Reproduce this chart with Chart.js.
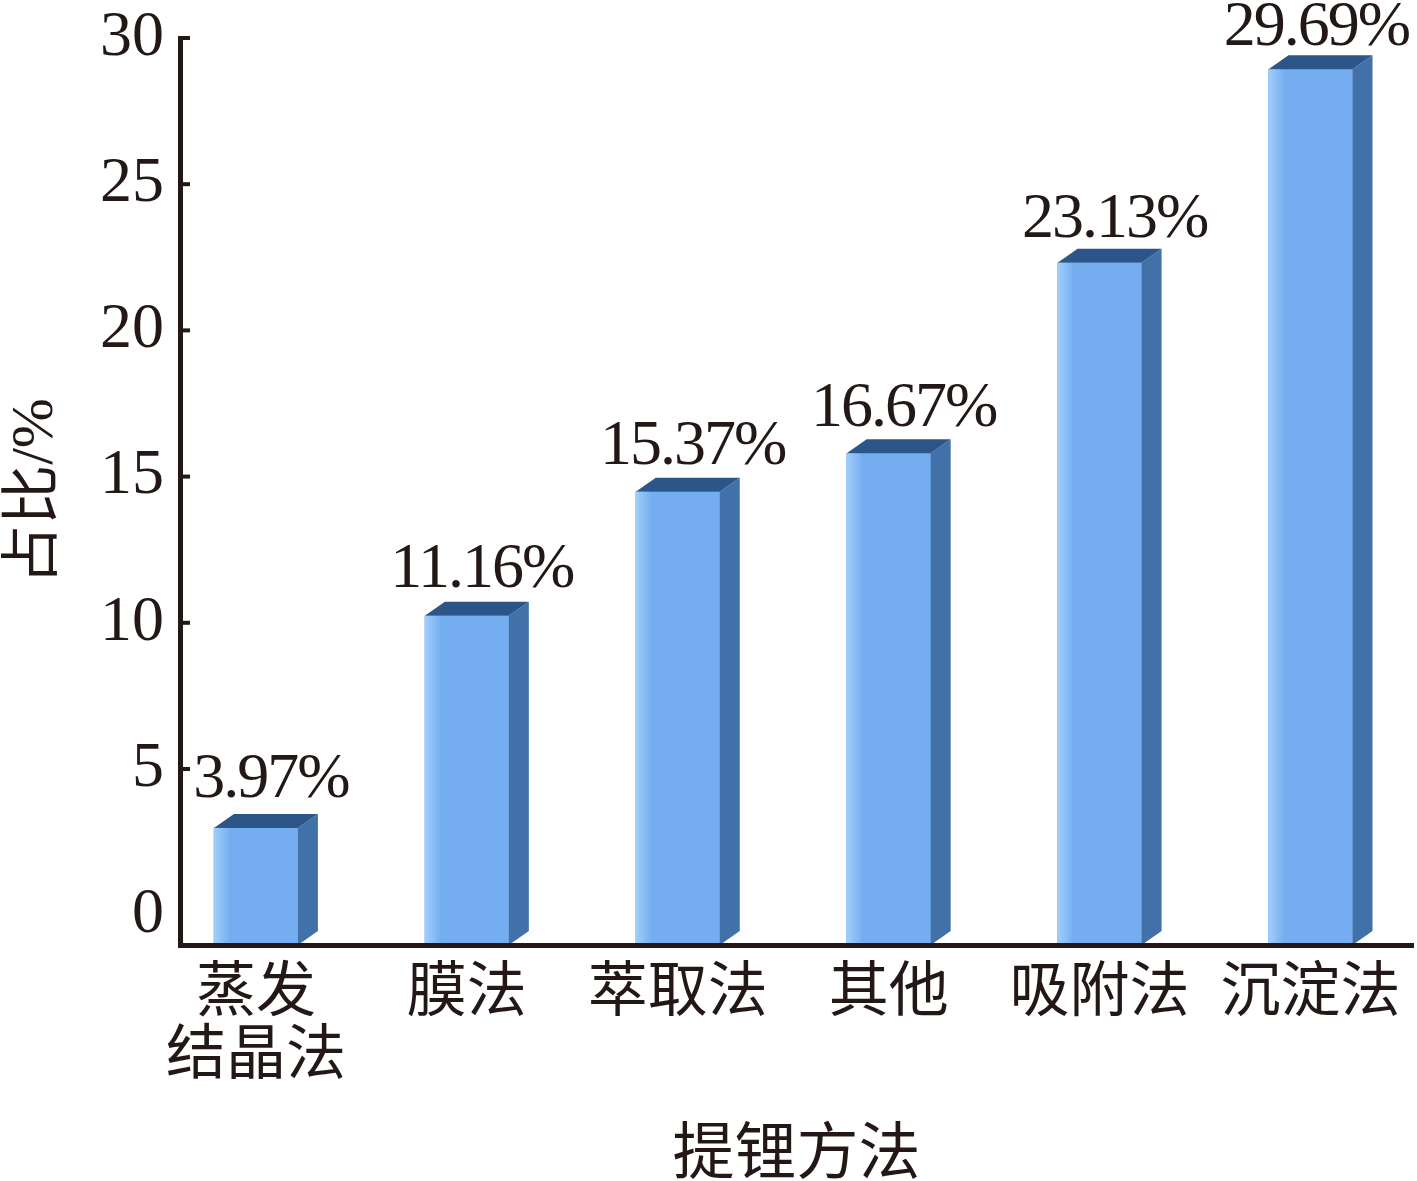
<!DOCTYPE html>
<html>
<head>
<meta charset="utf-8">
<script src="https://cdn.jsdelivr.net/npm/chart.js@4.4.0/dist/chart.umd.min.js"></script>
<style>
body { margin: 0; background: #fff; }
#wrap { width: 1417px; height: 1181px; }
</style>
</head>
<body>
<div id="wrap"><canvas id="myChart"></canvas></div>
<script>
// data
var methods = [['蒸发', '结晶法'], '膜法', '萃取法', '其他', '吸附法', '沉淀法'];
var shares = [3.97, 11.16, 15.37, 16.67, 23.13, 29.69];
var yTicks = [0, 5, 10, 15, 20, 25, 30];

var ink = '#231815';
var serif = '"Liberation Serif", "Noto Sans CJK SC"';
var cjk = '"Noto Sans CJK SC"';

// side + top faces of the boxes, value labels, inner tick marks
var bar3d = {
    id: 'bar3d',
    afterDatasetsDraw: function (chart) {
        var c = chart.ctx;
        var meta = chart.getDatasetMeta(0);
        var y = chart.scales.y;
        var dx = 20, dy = 14;
        c.save();
        meta.data.forEach(function (b, i) {
            var l = b.x - b.width / 2, r = b.x + b.width / 2, t = b.y, bot = b.base;
            // side
            c.fillStyle = '#4270a8';
            c.beginPath();
            c.moveTo(r, t); c.lineTo(r + dx, t - dy); c.lineTo(r + dx, bot - dy); c.lineTo(r, bot);
            c.closePath(); c.fill();
            // top
            c.fillStyle = '#2c5689';
            c.beginPath();
            c.moveTo(l, t); c.lineTo(l + dx, t - dy); c.lineTo(r + dx, t - dy); c.lineTo(r, t);
            c.closePath(); c.fill();
            // light left edge
            var g = c.createLinearGradient(l, 0, l + 16, 0);
            g.addColorStop(0, 'rgba(165,210,252,0.9)');
            g.addColorStop(1, 'rgba(165,210,252,0)');
            c.fillStyle = g;
            c.fillRect(l, t, 16, bot - t);
        });
        // value labels
        c.font = '64px ' + serif;
        c.letterSpacing = '-2px';
        c.fillStyle = ink;
        c.textAlign = 'center';
        c.textBaseline = 'alphabetic';
        meta.data.forEach(function (b, i) {
            var txt = shares[i].toFixed(2) + '%';
            var w = c.measureText(txt).width;
            var x = Math.min(b.x + 15, chart.width - w / 2 - 8);
            c.fillText(txt, x, y.getPixelForValue(shares[i]) - 2);
        });
        c.restore();
    },
    afterDraw: function (chart) {
        var c = chart.ctx, y = chart.scales.y, left = chart.chartArea.left;
        c.save();
        c.strokeStyle = ink;
        c.lineWidth = 4;
        yTicks.forEach(function (v) {
            if (v === 0) return;
            var p = y.getPixelForValue(v);
            c.beginPath();
            c.moveTo(left, p);
            c.lineTo(left + 10, p);
            c.stroke();
        });
        c.restore();
    }
};

var ctx = document.getElementById('myChart');
var chart = new Chart(ctx, {
    type: 'bar',
    data: {
        datasets: [{
            data: shares.map(function (v, i) { return { x: i, y: v }; }),
            yAxisID: 'y2',
            backgroundColor: '#75aef0',
            borderWidth: 0,
            barThickness: 84
        }]
    },
    plugins: [bar3d],
    options: {
        responsive: true,
        maintainAspectRatio: false,
        animation: false,
        layout: { padding: { top: 38, right: 4, left: 0, bottom: 0 } },
        plugins: {
            legend: { display: false },
            tooltip: { enabled: false }
        },
        scales: {
            x: {
                type: 'linear',
                offset: false,
                min: -0.36,
                max: 5.486,
                afterBuildTicks: function (s) {
                    s.ticks = methods.map(function (m, i) { return { value: i }; });
                },
                afterFit: function (s) { s.height = 236; },
                grid: { display: false, drawTicks: false, offset: false },
                border: { display: true, color: ink, width: 5, z: 1 },
                ticks: {
                    autoSkip: false,
                    maxRotation: 0,
                    padding: 12,
                    color: ink,
                    font: { family: cjk, size: 60, lineHeight: 1.05 },
                    callback: function (v) { return methods[v]; }
                },
                title: {
                    display: true,
                    text: '提锂方法',
                    color: ink,
                    padding: { top: 0, bottom: 0 },
                    font: { family: cjk, size: 62, lineHeight: 1 }
                }
            },
            y: {
                min: -1.02,
                max: 30,
                afterBuildTicks: function (s) {
                    s.ticks = yTicks.map(function (v) { return { value: v }; });
                },
                afterFit: function (s) { s.width = 180; },
                grid: { display: false, drawTicks: false },
                border: { display: true, color: ink, width: 5, z: 1 },
                ticks: {
                    padding: 16,
                    color: ink,
                    font: { family: serif, size: 64, lineHeight: 0.6 }
                },
                title: {
                    display: true,
                    text: '占比/%',
                    color: ink,
                    padding: { top: 6, bottom: 0 },
                    font: { family: serif, size: 60, lineHeight: 1 }
                }
            },
            y2: {
                display: false,
                min: 0,
                max: 30.75
            }
        }
    }
});
</script>
</body>
</html>
